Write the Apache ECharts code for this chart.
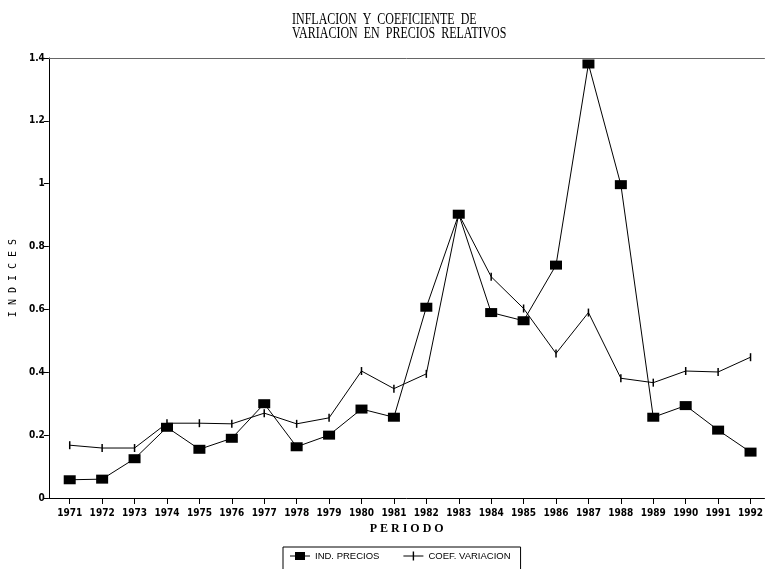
<!DOCTYPE html>
<html><head><meta charset="utf-8">
<script src="https://cdn.jsdelivr.net/npm/echarts@6/dist/echarts.min.js"></script>
<style>html,body{margin:0;padding:0;background:#fff}#c{width:766px;height:569px}</style>
</head><body><div id="c"></div>
<script>
const years = [1971,1972,1973,1974,1975,1976,1977,1978,1979,1980,1981,1982,1983,1984,1985,1986,1987,1988,1989,1990,1991,1992];
const indPrecios = [0.058,0.060,0.125,0.225,0.155,0.190,0.300,0.163,0.200,0.283,0.257,0.607,0.903,0.590,0.564,0.741,1.381,0.997,0.257,0.294,0.216,0.146];
const coefVariacion = [0.168,0.159,0.159,0.238,0.238,0.236,0.270,0.236,0.255,0.404,0.348,0.395,0.903,0.704,0.603,0.460,0.590,0.381,0.367,0.404,0.401,0.448];
const yTicks = [0,0.2,0.4,0.6,0.8,1,1.2,1.4];

const chart = echarts.init(document.getElementById('c'), null, {renderer:'canvas'});
const pairs = arr => years.map((y,i)=>[y, arr[i]]);
const sans = 'DejaVu Sans Condensed, DejaVu Sans, sans-serif';
chart.setOption({
  animation:false,
  backgroundColor:'#fff',
  graphic:[{
    type:'text', left:292, top:11, scaleY:1.45,
    style:{text:'INFLACION  Y  COEFICIENTE  DE\nVARIACION  EN  PRECIOS  RELATIVOS', fontFamily:'Liberation Serif, serif', fontSize:12, lineHeight:9.5, fill:'#000'}
  }],
  grid:{left:46, right:0, top:58, bottom:71},
  legend:{
    left:283, top:547, orient:'horizontal',
    padding:[4,10,16,7], itemGap:24, itemWidth:20, itemHeight:9,
    borderColor:'#000', borderWidth:1,
    textStyle:{fontFamily:'Liberation Sans, Arial, sans-serif', fontSize:9.5, color:'#000'},
    data:[
      {name:'IND. PRECIOS', icon:'path://M0,4L20,4L20,5L0,5Z M5,0.5L15,0.5L15,8.5L5,8.5Z M0,0L0.01,0L0.01,9L0,9Z'},
      {name:'COEF. VARIACION', icon:'path://M0,4L20,4L20,5L0,5Z M9.3,0L10.7,0L10.7,9L9.3,9Z'}
    ]
  },
  xAxis:[{
    type:'value', min:1970.356, max:1992.43,
    name:'P E R I O D O', nameLocation:'middle', nameGap:18,
    nameTextStyle:{fontFamily:'Liberation Serif, serif', fontSize:12, color:'#000', fontWeight:'bold'},
    axisLine:{lineStyle:{color:'#000', width:1}},
    axisTick:{show:true, customValues:years, length:6, lineStyle:{color:'#000'}},
    axisLabel:{customValues:years, formatter:v=>String(v), fontFamily:sans, fontSize:10, color:'#000', margin:10, fontWeight:'bold'},
    splitLine:{show:false}
  },{
    type:'value', position:'top', min:1970.356, max:1992.43,
    axisLine:{show:true, lineStyle:{color:'#666', width:1}},
    axisTick:{show:false}, axisLabel:{show:false}, splitLine:{show:false}
  }],
  yAxis:{
    type:'value', min:0, max:1.4, interval:0.2,
    name:'I N D I C E S', nameLocation:'middle', nameGap:29, nameRotate:90,
    nameTextStyle:{fontFamily:'DejaVu Sans Mono, monospace', fontSize:10, color:'#000'},
    axisLine:{show:true, lineStyle:{color:'#000', width:1}},
    axisTick:{show:true, length:5, lineStyle:{color:'#000'}},
    axisLabel:{fontFamily:sans, fontSize:10, color:'#000', margin:4, fontWeight:'bold',
      formatter:v=>String(Math.round(v*10)/10)},
    splitLine:{show:false}
  },
  series:[{
    name:'IND. PRECIOS', type:'line', data:pairs(indPrecios),
    symbol:'rect', symbolSize:[12,9],
    lineStyle:{color:'#000', width:1}, itemStyle:{color:'#000'}
  },{
    name:'COEF. VARIACION', type:'line', data:pairs(coefVariacion),
    symbol:'rect', symbolSize:[1.5,8],
    lineStyle:{color:'#000', width:1}, itemStyle:{color:'#000'}
  }]
});
</script></body></html>
